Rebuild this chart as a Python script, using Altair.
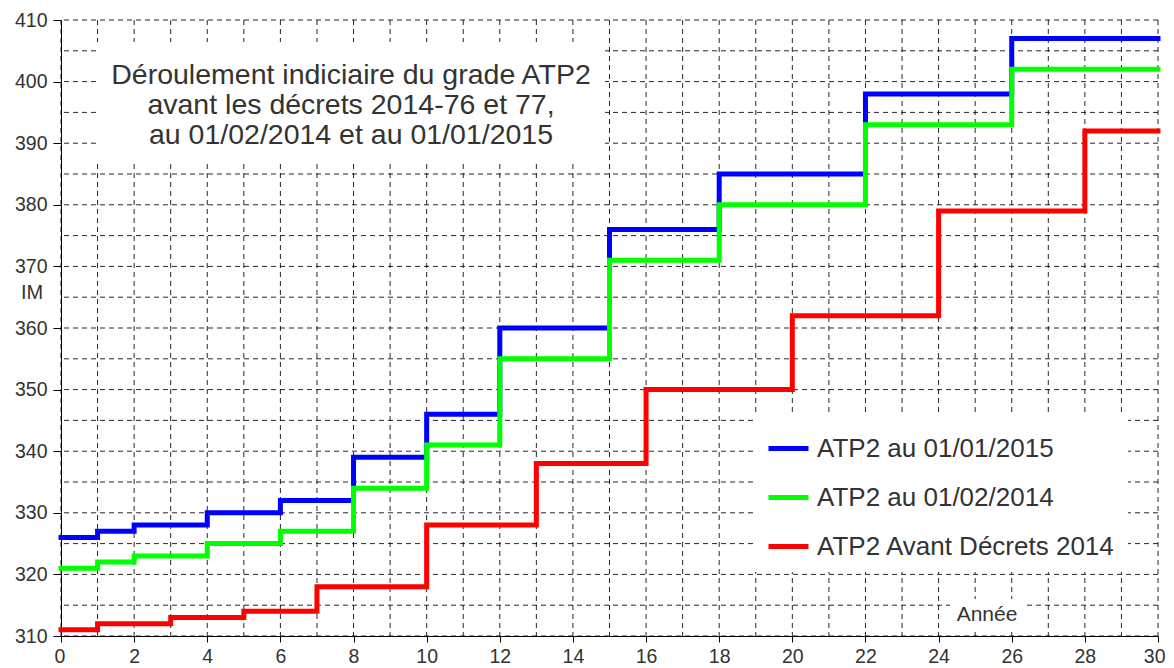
import altair as alt
import pandas as pd

# ---- data ----
series_names = ["ATP2 au 01/01/2015", "ATP2 au 01/02/2014", "ATP2 Avant Décrets 2014"]
series_colors = ["#0000ff", "#00ff00", "#ff0000"]

blue_years = [0, 1, 2, 4, 6, 8, 10, 12, 15, 18, 22, 26, 30]
blue_im = [326, 327, 328, 330, 332, 339, 346, 360, 376, 385, 398, 407, 407]

green_years = [0, 1, 2, 4, 6, 8, 10, 12, 15, 18, 22, 26, 30]
green_im = [321, 322, 323, 325, 327, 334, 341, 355, 371, 380, 393, 402, 402]

red_years = [0, 1, 3, 5, 7, 10, 13, 16, 20, 24, 28, 30]
red_im = [311, 312, 313, 314, 318, 328, 338, 350, 362, 379, 392, 392]

x_labels = list(range(0, 31, 2))
y_labels = list(range(310, 411, 10))
grid_x = list(range(0, 31, 1))
grid_y = list(range(310, 411, 5))

title_lines = ["Déroulement indiciaire du grade ATP2",
               "avant les décrets 2014-76 et 77,",
               "au 01/02/2014 et au 01/01/2015"]

rows = []
for name, xs, ys in zip(series_names, [blue_years, green_years, red_years], [blue_im, green_im, red_im]):
    for xv, yv in zip(xs, ys):
        rows.append({"serie": name, "annee": xv, "im": yv})
df = pd.DataFrame(rows)

FONT = "Liberation Sans"
TXT = "#333333"
W, H = 1097, 616

xscale = alt.Scale(domain=[0, 30], nice=False)
yscale = alt.Scale(domain=[310, 410], nice=False, zero=False)

x_axis = alt.Axis(values=x_labels, grid=False, tickSize=6, labelPadding=5,
                  labelFlush=True, labelFlushOffset=7,
                  domainColor="#000000", tickColor="#000000", title=None,
                  labelFontSize=19.5, labelColor=TXT, labelFont=FONT)
y_axis = alt.Axis(values=y_labels, grid=False, tickSize=8, labelPadding=6, labelFlush=False,
                  domainColor="#000000", tickColor="#000000", title=None,
                  labelFontSize=19.5, labelColor=TXT, labelFont=FONT)

one = pd.DataFrame({"k": [0]})

vgrid = alt.Chart(pd.DataFrame({"gx": grid_x})).mark_rule(
    strokeDash=[5, 4], color="#000000", strokeWidth=1, opacity=0.85
).encode(x=alt.X("gx:Q", scale=xscale, axis=x_axis))

hgrid = alt.Chart(pd.DataFrame({"gy": grid_y})).mark_rule(
    strokeDash=[5, 4], color="#000000", strokeWidth=1, opacity=0.85
).encode(y=alt.Y("gy:Q", scale=yscale, axis=None))

title_box = alt.Chart(one).mark_rect(fill="white").encode(
    x=alt.value(36), x2=alt.value(544), y=alt.value(22), y2=alt.value(140)
)
annee_box = alt.Chart(one).mark_rect(fill="white").encode(
    x=alt.value(889), x2=alt.value(964), y=alt.value(579), y2=alt.value(612)
)

lines = alt.Chart(df).mark_line(
    interpolate="step-after", strokeWidth=5, strokeJoin="miter", strokeCap="square"
).encode(
    x=alt.X("annee:Q", scale=xscale, axis=x_axis),
    y=alt.Y("im:Q", scale=yscale, axis=y_axis),
    color=alt.Color("serie:N", scale=alt.Scale(domain=series_names, range=series_colors),
                    legend=alt.Legend(title=None, orient="none", legendX=693, legendY=394,
                                      fillColor="white", padding=12, symbolType="stroke",
                                      symbolSize=1600, symbolStrokeWidth=5,
                                      labelFontSize=26, labelColor=TXT, labelFont=FONT,
                                      labelOffset=6, rowPadding=13, labelLimit=500)),
)

title_df = pd.DataFrame({"t": title_lines, "i": [0, 1, 2]})
title_text = alt.Chart(title_df).mark_text(
    fontSize=28.5, font=FONT, color=TXT, align="center", baseline="middle"
).encode(
    text="t:N",
    x=alt.value(290),
    y=alt.Y("i:Q", scale=alt.Scale(domain=[0, 2], range=[55, 115]), axis=None),
)

im_text = alt.Chart(one).mark_text(
    text="IM", fontSize=20, font=FONT, color=TXT, align="center", baseline="middle"
).encode(x=alt.value(-29), y=alt.value(273))

annee_text = alt.Chart(one).mark_text(
    text="Année", fontSize=21, font=FONT, color=TXT, align="center", baseline="middle"
).encode(x=alt.value(926), y=alt.value(595))

chart = alt.layer(vgrid, hgrid, title_box, annee_box, lines, title_text, im_text, annee_text).properties(
    width=W, height=H,
    autosize=alt.AutoSizeParams(type="none"),
    padding={"left": 53, "top": 12, "right": 8, "bottom": 32},
).configure_view(stroke=None).resolve_scale(y="independent")

chart.save("out.html", embed_options={"renderer": "svg", "actions": False})
